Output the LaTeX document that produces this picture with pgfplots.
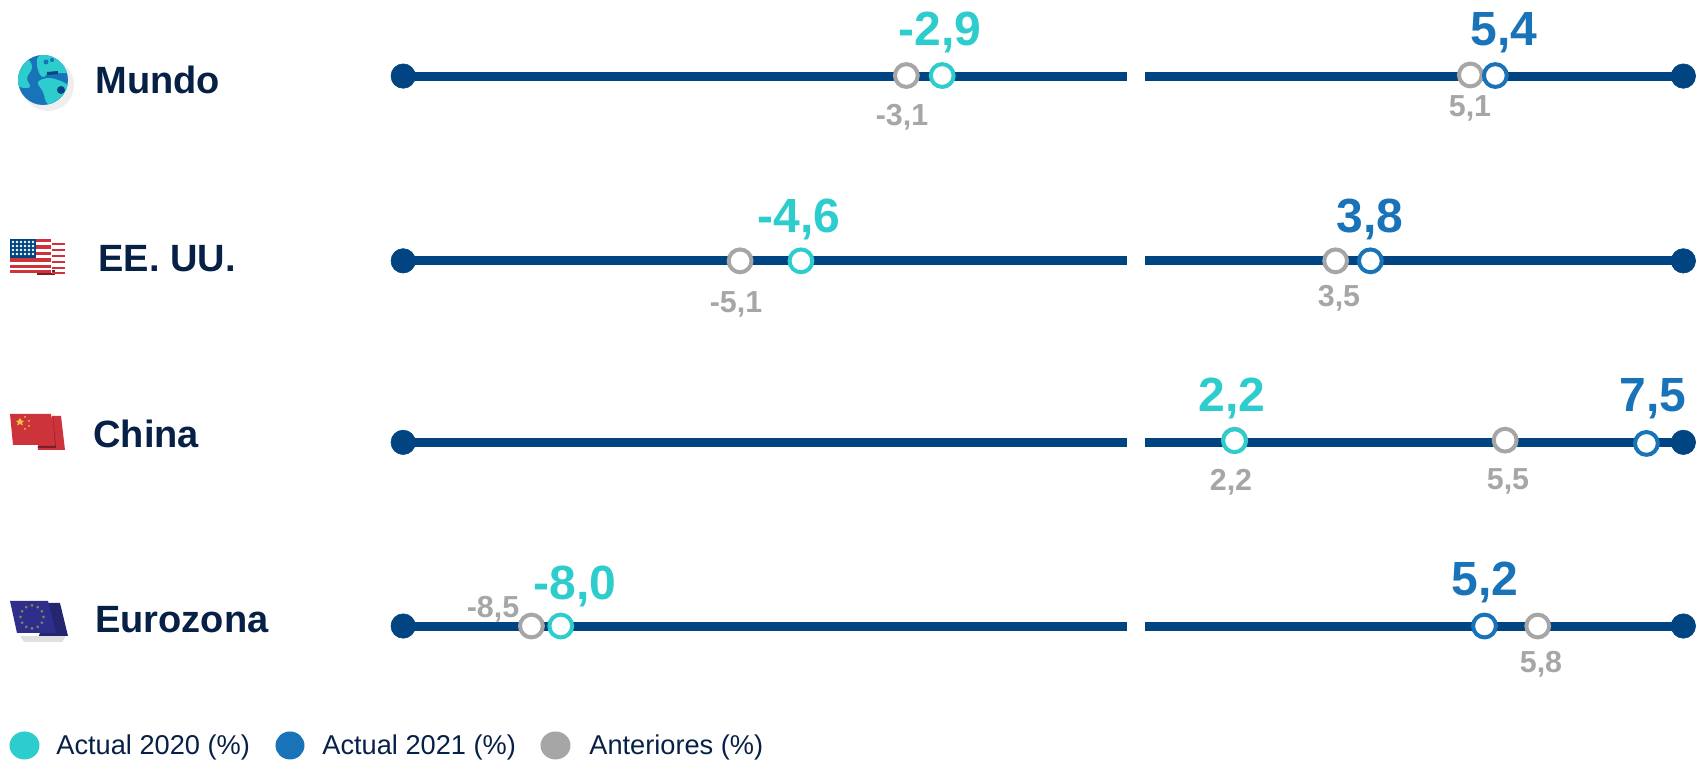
\documentclass[border=0pt]{standalone}
\usepackage{fontspec}
\usepackage{pgfplots}
\pgfplotsset{compat=1.18}
\setmainfont{Liberation Sans}
\definecolor{barline}{HTML}{004481}
\definecolor{navy}{HTML}{072146}
\definecolor{teal20}{HTML}{2DCCCD}
\definecolor{blue21}{HTML}{1973B8}
\definecolor{grayprev}{HTML}{A6A6A6}
\definecolor{flagred}{HTML}{CC333B}
\definecolor{flagdark}{HTML}{7A1F25}
\definecolor{flagblue}{HTML}{2E2E8C}
\definecolor{starbrown}{HTML}{8C8550}
\definecolor{staryellow}{HTML}{F5C242}

% Forecast scale of the strip: monotone and piecewise linear, position in strip units
\newcommand\seg[4]{((\fx<=#3)?(#2+(\fx-#1)*(#4-#2)/(#3-#1)):}
\newcommand\stripscale[1]{%
  \pgfmathfloatparsenumber{#1}%
  \pgfmathfloattosci{\pgfmathresult}%
  \let\fxv\pgfmathresult
  \def\fx{(\fxv)}%
  \edef\pgfmathresult{\fpeval{round(
    \seg{-15}{0}{-10}{371}\seg{-10}{371}{-8.5}{489}\seg{-8.5}{489}{-8}{516}%
    \seg{-8}{516}{-5.1}{681}\seg{-5.1}{681}{-4.6}{737}\seg{-4.6}{737}{-3.1}{834}%
    \seg{-3.1}{834}{-2.9}{867}\seg{-2.9}{867}{0}{1037}\seg{0}{1037}{1}{1054}%
    \seg{1}{1054}{2.2}{1136}\seg{2.2}{1136}{3.5}{1229}\seg{3.5}{1229}{3.8}{1261}%
    \seg{3.8}{1261}{5.1}{1353}\seg{5.1}{1353}{5.2}{1366}\seg{5.2}{1366}{5.4}{1376}%
    \seg{5.4}{1376}{5.5}{1385}\seg{5.5}{1385}{5.8}{1415}\seg{5.8}{1415}{7.5}{1515}%
    \seg{7.5}{1515}{8}{1549}(1549+(\fx-8)*19/12)
    )))))))))))))))))))
  ,3)}}%
}
\tikzset{
  big/.style={anchor=base,inner sep=0pt,font=\fontsize{24bp}{28bp}\selectfont\bfseries},
  small/.style={anchor=base,inner sep=0pt,text=grayprev,font=\fontsize{15.2bp}{18bp}\selectfont\bfseries},
  name/.style={anchor=base west,inner sep=0pt,text=navy,font=\fontsize{19bp}{22bp}\selectfont\bfseries},
  legtext/.style={anchor=base west,inner sep=0pt,text=navy,font=\fontsize{13.6bp}{16bp}\selectfont},
}
\begin{document}
\begin{tikzpicture}
\useasboundingbox (0,0) rectangle (852bp,380.5bp);
% Forecast strips and markers on the shared scale
\begin{axis}[width=852bp,height=380.5bp,scale only axis,at={(0,0)},anchor=south west,
  hide axis,clip=false,xtick=\empty,ytick=\empty,y dir=reverse,
  xmin=-15,xmax=20,ymin=0,ymax=700.2,
  x coord trafo/.code={\stripscale{#1}}]
  \pgfplotsinvokeforeach{70,240,407,576}{
    \addplot[barline,line width=4.5bp,line cap=butt] coordinates {(-10,#1) (0,#1)};
    \addplot[barline,line width=4.5bp,line cap=butt] coordinates {(1,#1) (8,#1)};
    \addplot[only marks,mark=*,mark size=6.1bp,mark options={fill=barline,draw=barline,line width=.3bp}] coordinates {(-10,#1) (8,#1)};
  }
  % previous forecasts
  \addplot[only marks,mark=*,mark size=5.7bp,mark options={fill=white,draw=grayprev,line width=2bp}]
    coordinates {(-3.1,69.5) (5.1,69) (-5.1,240) (3.5,240) (2.2,405) (5.5,405) (-8.5,576) (5.8,576)};
  % current forecast for 2020
  \addplot[only marks,mark=*,mark size=5.7bp,mark options={fill=white,draw=teal20,line width=2bp}]
    coordinates {(-2.9,69.5) (-4.6,240) (2.2,405.5) (-8.0,576)};
  % current forecast for 2021
  \addplot[only marks,mark=*,mark size=5.7bp,mark options={fill=white,draw=blue21,line width=2bp}]
    coordinates {(5.4,69.5) (3.8,240) (7.5,408) (5.2,576)};
\end{axis}

% Row names, value labels, legend and pictograms in picture units
\begin{scope}[x=0.5bp,y=-0.5bp,yshift=380.5bp]
  \node[name] at (95,94) {Mundo};
  \node[name] at (98,272) {EE. UU.};
  \node[name] at (93,448) {China};
  \node[name] at (95,633) {Eurozona};

  \node[big,text=teal20] at (940,46) {-2,9};
  \node[big,text=blue21] at (1504,46) {5,4};
  \node[big,text=teal20] at (799,233) {-4,6};
  \node[big,text=blue21] at (1370,233) {3,8};
  \node[big,text=teal20] at (1232,412) {2,2};
  \node[big,text=blue21] at (1653,412) {7,5};
  \node[big,text=teal20] at (575,600) {-8,0};
  \node[big,text=blue21] at (1485,596) {5,2};

  \node[small] at (902,126) {-3,1};
  \node[small] at (1470,117) {5,1};
  \node[small] at (736,313) {-5,1};
  \node[small] at (1339,307) {3,5};
  \node[small] at (1231,491) {2,2};
  \node[small] at (1508,490) {5,5};
  \node[small] at (493,618) {-8,5};
  \node[small] at (1541,673) {5,8};

  % legend
  \fill[teal20] (24.5,745.5) ellipse[x radius=15,y radius=14];
  \node[legtext] at (56,755) {Actual 2020 (\%)};
  \fill[blue21] (290,745.5) ellipse[x radius=14.5,y radius=14];
  \node[legtext] at (322,755) {Actual 2021 (\%)};
  \fill[grayprev] (555.5,745.5) ellipse[x radius=15,y radius=14];
  \node[legtext] at (589,755) {Anteriores (\%)};

  % globe
  \fill[black!30,opacity=.22] (48,85) circle[radius=26];
  \begin{scope}
    \clip (43,80) circle[radius=25];
    \fill[blue21] (17,52) rectangle (70,106);
    \fill[teal20] plot[smooth cycle,tension=.6] coordinates {(16,68)(28,60)(32,68)(27,78)(30,87)(20,87)(16,80)};
    \fill[teal20] plot[smooth cycle,tension=.6] coordinates {(38,57)(53,53)(69,68)(66,73)(50,73)(43,77)(38,70)};
    \fill[teal20] plot[smooth cycle,tension=.6] coordinates {(38,82)(50,78)(65,83)(68,88)(60,98)(48,104)(43,92)};
    \fill[blue21] (46,62) circle[radius=2.5];
    \fill[blue21] (52,60) circle[radius=2];
    \fill[barline] (61,90) circle[radius=4];
    \fill[barline] (47,72) -- (58,71) -- (58,74) -- (47,75) -- cycle;
  \end{scope}

  % United States flag
  \fill[flagdark] (37,270) rectangle (55,275);
  \foreach \yy in {243,249,255,261,267,272}
    \fill[flagred] (52,\yy) rectangle (65,{\yy+2.2});
  \fill[white] (10,239) rectangle (52,273);
  \foreach \yy in {239,245.5,252,258.5,265,270}
    \fill[flagred] (10,\yy) rectangle (51,{\yy+3.2});
  \fill[barline] (10,239) rectangle (36,258);
  \foreach \yy in {242,246,250,254}
    \foreach \xx in {13,17,21,25,29,33}
      \fill[white] (\xx,\yy) circle[radius=1.3];

  % China flag
  \fill[flagred] (52,416) -- (61,416) -- (65,450) -- (38,450) -- (38,446) -- cycle;
  \fill[flagdark] (53,416) -- (55,446) -- (38,446) -- (38,448) -- (56,448) -- cycle;
  \fill[flagred] (10,414) -- (51,414) -- (55,445) -- (13,445) -- cycle;
  \fill[staryellow] (20,418) -- (21.5,420.5) -- (24,421) -- (22,423) -- (23,425.5) -- (20,424) -- (17,425.5) -- (18,423) -- (16,421) -- (18.5,420.5) -- cycle;
  \foreach \xx/\yy in {25/417,29/421,29/426,25/429}
    \fill[staryellow] (\xx,\yy) circle[radius=1];

  % Euro area flag
  \fill[black!40,opacity=.3] (20,636) -- (66,636) -- (62,642) -- (24,642) -- cycle;
  \fill[flagblue!80!black] (48,603) -- (60,603) -- (68,636) -- (39,636) -- cycle;
  \fill[flagblue] (10,601) -- (48,601) -- (56,633) -- (17,633) -- cycle;
  \foreach \a in {0,30,...,330}
    \fill[starbrown] ({32+11.5*cos(\a)},{617+11.5*sin(\a)}) circle[radius=1.5];
\end{scope}
\end{tikzpicture}
\end{document}
